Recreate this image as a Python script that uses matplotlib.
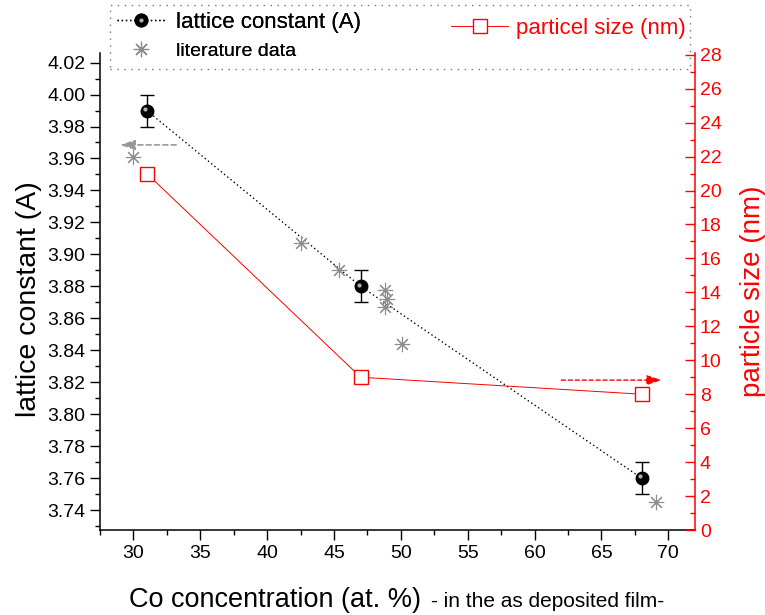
import matplotlib.pyplot as plt
import matplotlib.transforms as mtransforms
from matplotlib.lines import Line2D
from matplotlib.patches import Rectangle
from matplotlib.legend_handler import HandlerTuple
from matplotlib.ticker import MultipleLocator, FormatStrFormatter

plt.rcParams['font.family'] = ['Liberation Sans', 'DejaVu Sans']

# lattice constant from this work
co_conc = [31, 47, 68]
lattice = [3.99, 3.88, 3.76]
lattice_err = [0.01, 0.01, 0.01]

# literature values
lit_conc = [30.0, 42.5, 45.4, 48.8, 49.0, 48.8, 50.1, 69.1]
lit_lattice = [3.961, 3.907, 3.890, 3.878, 3.872, 3.867, 3.844, 3.745]

# particle size (right axis)
size_conc = [31, 47, 68]
particle_size = [21, 9, 8]

# arrows telling which axis belongs to which curve: x start, x end, y
arrow_left = (33.2, 29.0, 3.9685)
arrow_right = (62.0, 69.5, 8.83)

fig = plt.figure(figsize=(7.65, 6.15), dpi=100)
ax = fig.add_axes([0.1307, 0.1382, 0.7778, 0.7756])
ax2 = ax.twinx()

# lattice constant: dotted line, error bars, black spheres
ax.plot(co_conc, lattice, ls=(0, (1, 2)), color='black', lw=1, zorder=2)
ax.errorbar(co_conc, lattice, yerr=lattice_err, fmt='none', ecolor='black',
            elinewidth=1, capsize=5, capthick=1, zorder=3)
ax.plot(co_conc, lattice, 'o', color='black', ms=9, zorder=4)
shine = mtransforms.offset_copy(ax.transData, fig=fig, x=-1.2, y=1.2, units='points')
ax.plot(co_conc, lattice, 'o', color='#b0b0b0', ms=3, mew=0, transform=shine, zorder=5)

# literature data
ax.plot(lit_conc, lit_lattice, ls='none', marker=(8, 2, 0), color='#8c8c8c',
        ms=11, mew=0.8, zorder=3)

# particle size on right axis
ax2.plot(size_conc, particle_size, color='red', lw=0.7, marker='s', mfc='white',
         mec='red', ms=10, mew=1)

ax.annotate('', xy=(arrow_left[1], arrow_left[2]), xytext=(arrow_left[0], arrow_left[2]),
            arrowprops=dict(arrowstyle='-|>,head_length=0.9,head_width=0.3', color='#999999',
                            ls=(0, (3, 2)), lw=1.2, mutation_scale=10, shrinkA=0, shrinkB=0))
ax2.annotate('', xy=(arrow_right[1], arrow_right[2]), xytext=(arrow_right[0], arrow_right[2]),
             arrowprops=dict(arrowstyle='-|>,head_length=0.9,head_width=0.3', color='red',
                             ls=(0, (3, 2)), lw=1.0, mutation_scale=10, shrinkA=0, shrinkB=0))

ax.set_xlim(27.5, 72)
ax.set_ylim(3.7275, 4.026)
ax2.set_ylim(0, 28.1)

ax.xaxis.set_major_locator(MultipleLocator(5))
ax.xaxis.set_minor_locator(MultipleLocator(2.5))
ax.yaxis.set_major_locator(MultipleLocator(0.02))
ax.yaxis.set_minor_locator(MultipleLocator(0.01))
ax.yaxis.set_major_formatter(FormatStrFormatter('%.2f'))
ax2.yaxis.set_major_locator(MultipleLocator(2))
ax2.yaxis.set_minor_locator(MultipleLocator(1))

ax.tick_params(which='major', direction='out', length=7, width=1, labelsize=14)
ax.tick_params(which='minor', direction='out', length=3.5, width=1)
ax2.tick_params(axis='y', which='major', direction='in', length=7, width=1,
                colors='red', labelsize=14)
ax2.tick_params(axis='y', which='minor', direction='in', length=3.5, width=1, colors='red')

for s in ['top', 'right']:
    ax.spines[s].set_visible(False)
for s in ['top', 'left', 'bottom']:
    ax2.spines[s].set_visible(False)
ax.spines['left'].set_linewidth(1.1)
ax.spines['bottom'].set_linewidth(1.1)
ax2.spines['right'].set_linewidth(1.1)
ax2.spines['right'].set_color('red')

ax.set_ylabel('lattice constant (A)', fontsize=20.5)
ax.yaxis.set_label_coords(-0.097, 0.485)
ax2.set_ylabel('particle size (nm)', fontsize=20, color='red', labelpad=13)

fig.text(129 / 765, 1 - 607 / 615, 'Co concentration (at. %)', fontsize=19.5,
         ha='left', va='baseline')
fig.text(431 / 765, 1 - 607 / 615, '- in the as deposited film-', fontsize=15,
         ha='left', va='baseline')

# legend
h_lat = (Line2D([], [], ls=(0, (1, 2)), color='black', lw=1, marker='o', ms=9),
         Line2D([], [], ls='none', marker='o', color='#b0b0b0', ms=3, mew=0))
h_lit = Line2D([], [], ls='none', marker=(8, 2, 0), color='#8c8c8c', ms=11, mew=0.8)
h_size = Line2D([], [], color='red', lw=0.7, marker='s', mfc='white',
                mec='red', ms=10, mew=1)

leg1 = ax.legend([h_lat, h_lit], ['lattice constant (A)', 'literature data'],
                 handler_map={tuple: HandlerTuple(ndivide=1)},
                 loc='upper left', bbox_to_anchor=(117 / 765, 1 - 12 / 615),
                 bbox_transform=fig.transFigure, frameon=False, fontsize=16,
                 handlelength=2.2, handletextpad=0.45, labelspacing=0.35,
                 borderaxespad=0, borderpad=0)
leg1.get_texts()[1].set_fontsize(14)
ax.add_artist(leg1)

leg2 = ax2.legend([h_size], ['particel size (nm)'], loc='upper right',
                  bbox_to_anchor=(686 / 765, 1 - 18 / 615),
                  bbox_transform=fig.transFigure, frameon=False, fontsize=16,
                  handlelength=2.6, handletextpad=0.35, borderaxespad=0, borderpad=0)
leg2.get_texts()[0].set_color('red')

fig.patches.append(Rectangle((110 / 765, 1 - 69 / 615), 580 / 765, 64 / 615,
                             transform=fig.transFigure, fill=False, ec='#777777',
                             lw=1, ls=(0, (1, 4)), zorder=10))

fig.savefig('out.png', dpi=100)
